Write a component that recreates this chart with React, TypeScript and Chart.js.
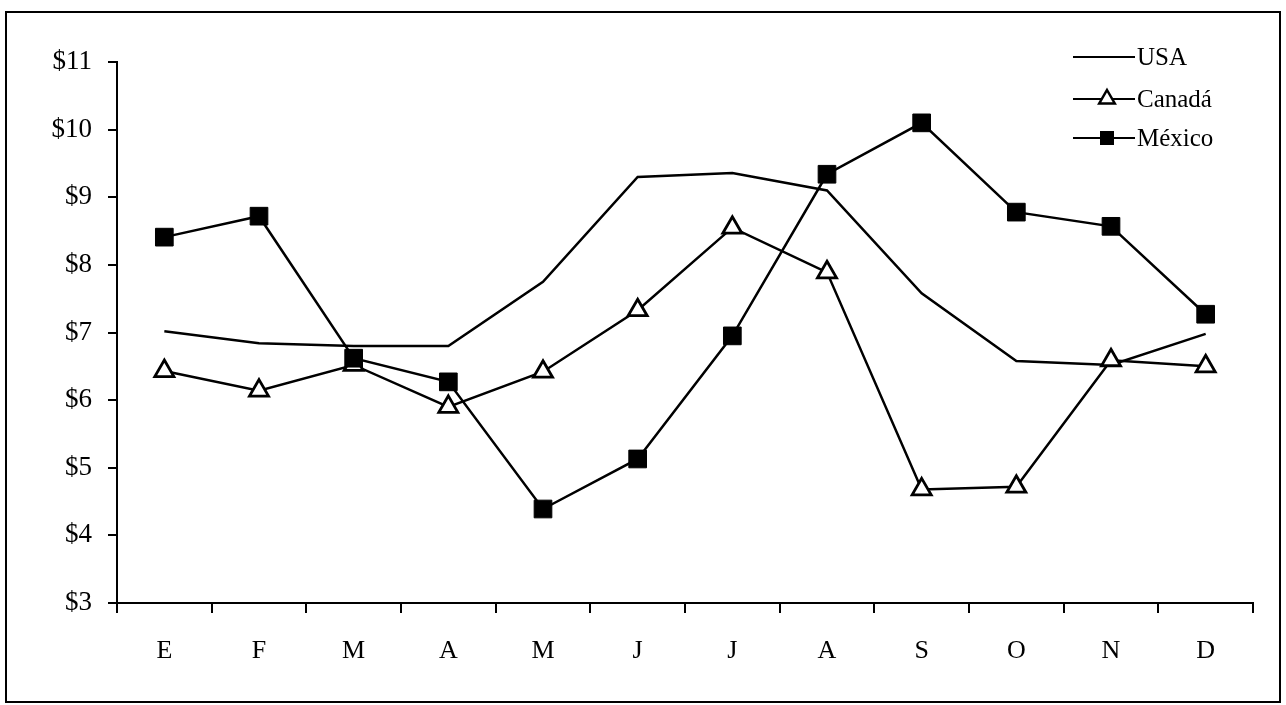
import React, { useEffect, useRef } from "react";
import { Chart, registerables } from "chart.js";

Chart.register(...registerables);

const months = ["E", "F", "M", "A", "M", "J", "J", "A", "S", "O", "N", "D"];
const usa = [7.02, 6.84, 6.8, 6.8, 7.75, 9.3, 9.36, 9.1, 7.58, 6.58, 6.52, 6.98];
const canada = [6.43, 6.14, 6.52, 5.9, 6.42, 7.33, 8.55, 7.89, 4.68, 4.72, 6.59, 6.5];
const mexico = [8.41, 8.72, 6.62, 6.27, 4.39, 5.13, 6.95, 9.34, 10.1, 8.78, 8.57, 7.27];
const yTicks = [3, 4, 5, 6, 7, 8, 9, 10, 11];
const seriesNames = ["USA", "Canadá", "México"];

const FONT = "'Liberation Serif', 'Times New Roman', serif";

const legendPlugin = {
  id: "customLegend",
  afterDraw(chart: any) {
    const ctx = chart.ctx;
    const x0 = 1073;
    const x1 = 1135;
    const ys = [57, 99, 138];
    ctx.save();
    chart.data.datasets.forEach((ds: any, i: number) => {
      const y = ys[i];
      ctx.strokeStyle = "#000";
      ctx.lineWidth = 2;
      ctx.beginPath();
      ctx.moveTo(x0, y);
      ctx.lineTo(x1, y);
      ctx.stroke();
      const mx = (x0 + x1) / 2 + 3;
      if (ds.pointStyle === "triangle") {
        const r = 9;
        ctx.beginPath();
        ctx.moveTo(mx, y - r);
        ctx.lineTo(mx + r * 0.866, y + r / 2);
        ctx.lineTo(mx - r * 0.866, y + r / 2);
        ctx.closePath();
        ctx.fillStyle = "#fff";
        ctx.fill();
        ctx.lineWidth = 2.5;
        ctx.stroke();
      } else if (ds.pointStyle === "rect") {
        ctx.fillStyle = "#000";
        ctx.fillRect(mx - 7, y - 7, 14, 14);
      }
      ctx.fillStyle = "#000";
      ctx.font = `25px ${FONT}`;
      ctx.textAlign = "left";
      ctx.textBaseline = "middle";
      ctx.fillText(ds.label, x1 + 2, y + 1);
    });
    ctx.restore();
  },
};

export default function App() {
  const ref = useRef<HTMLCanvasElement>(null);

  useEffect(() => {
    if (!ref.current) return;
    const chart = new Chart(ref.current, {
      type: "line",
      data: {
        labels: months,
        datasets: [
          {
            label: seriesNames[0],
            data: usa,
            borderColor: "#000",
            borderWidth: 2.5,
            pointRadius: 0,
            pointStyle: false as any,
            tension: 0,
            order: 3,
          },
          {
            label: seriesNames[1],
            data: canada,
            borderColor: "#000",
            borderWidth: 2.5,
            pointStyle: "triangle",
            pointRadius: 11,
            pointBorderWidth: 2.8,
            pointBackgroundColor: "#fff",
            pointBorderColor: "#000",
            tension: 0,
            order: 2,
          },
          {
            label: seriesNames[2],
            data: mexico,
            borderColor: "#000",
            borderWidth: 2.5,
            pointStyle: "rect",
            pointRadius: 12.5,
            pointBorderWidth: 1,
            pointBackgroundColor: "#000",
            pointBorderColor: "#000",
            tension: 0,
            order: 1,
          },
        ],
      },
      options: {
        responsive: false,
        animation: false,
        events: [],
        layout: { padding: { top: 62, right: 33, left: 0, bottom: 0 } },
        plugins: {
          legend: { display: false },
          tooltip: { enabled: false },
          title: { display: false },
        },
        scales: {
          x: {
            type: "category",
            offset: true,
            grid: {
              offset: true,
              drawOnChartArea: false,
              drawTicks: true,
              tickLength: 10,
              color: "#000",
              lineWidth: 2,
            },
            border: { display: true, color: "#000", width: 2 },
            ticks: {
              color: "#000",
              font: { family: FONT, size: 26 },
              padding: 23,
              maxRotation: 0,
              autoSkip: false,
            },
            afterFit(scale: any) {
              scale.height = 102;
            },
          },
          y: {
            min: yTicks[0],
            max: yTicks[yTicks.length - 1],
            afterBuildTicks(scale: any) {
              scale.ticks = yTicks.map((v) => ({ value: v }));
            },
            grid: {
              drawOnChartArea: false,
              drawTicks: true,
              tickLength: 9,
              color: "#000",
              lineWidth: 2,
            },
            border: { display: true, color: "#000", width: 2 },
            ticks: {
              color: "#000",
              font: { family: FONT, size: 27 },
              padding: 16,
              callback: (v: any) => "$" + v,
            },
            afterFit(scale: any) {
              scale.width = 117;
            },
          },
        },
      },
      plugins: [legendPlugin],
    });
    return () => chart.destroy();
  }, []);

  return (
    <div style={{ position: "absolute", left: 0, top: 0, width: 1286, height: 705, background: "#fff", overflow: "hidden" }}>
      <div
        style={{
          position: "absolute",
          left: 5,
          top: 11,
          width: 1272,
          height: 688,
          border: "2px solid #000",
        }}
      />
      <canvas ref={ref} width={1286} height={705} style={{ position: "absolute", left: 0, top: 0 }} />
    </div>
  );
}
